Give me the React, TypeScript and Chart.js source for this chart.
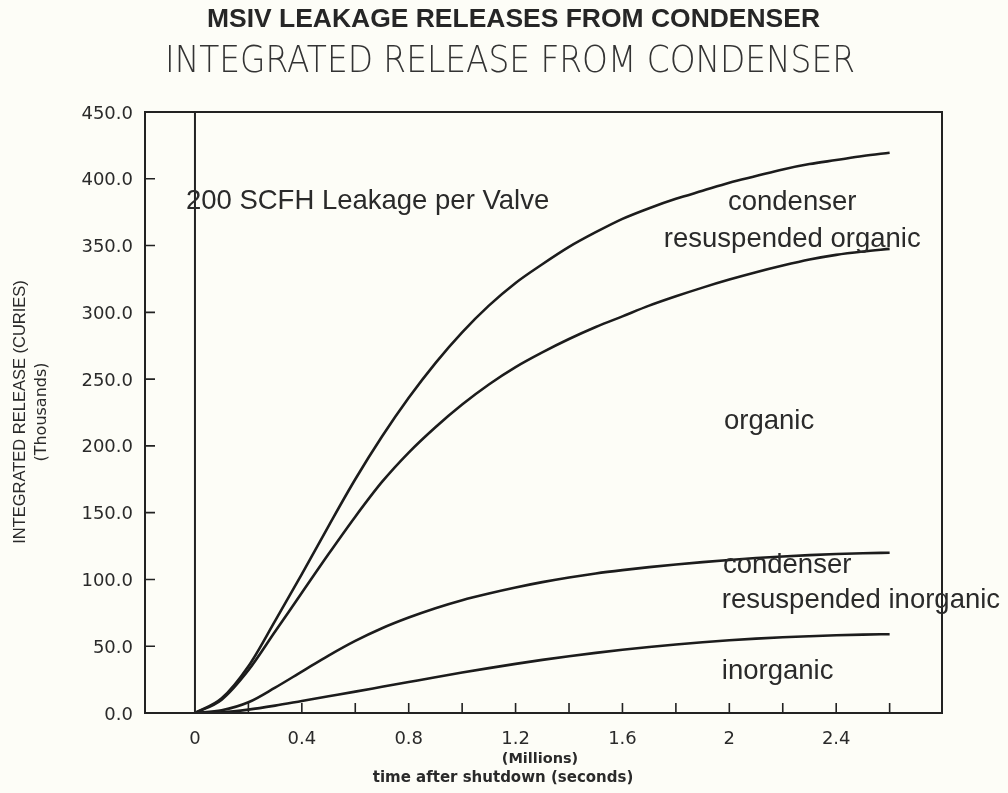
import React, { useEffect, useRef } from "react";
import { Chart, registerables } from "chart.js";

Chart.register(...registerables);

// ---- data (time in millions of seconds, release in thousands of curies) ----
const timeMillions = [0, 0.1, 0.2, 0.3, 0.4, 0.5, 0.6, 0.7, 0.8, 0.9, 1.0, 1.1, 1.2, 1.3, 1.4, 1.5, 1.6, 1.7, 1.8, 1.9, 2.0, 2.1, 2.2, 2.3, 2.4, 2.5, 2.6];
const condenserResuspendedOrganic = [0, 11, 35, 69, 104, 140, 175, 207, 236, 262, 285, 305, 322, 336, 349, 360, 370, 378, 385, 391, 397, 402, 407, 411, 414, 417, 419.5];
const organic = [0, 10, 32, 61, 90, 119, 147, 173, 195, 214, 231, 246, 259, 270, 280, 289, 297, 305, 312, 318.5, 324.5, 330, 335, 339.5, 343, 345.5, 347.5];
const condenserResuspendedInorganic = [0, 2, 8, 19, 31, 43, 54, 63.5, 71.5, 78.5, 84.5, 89.5, 94, 98, 101.5, 104.5, 107, 109.2, 111.2, 113, 114.6, 116, 117.2, 118.2, 119, 119.6, 120];
const inorganic = [0, 0.5, 2.5, 5.5, 9, 12.5, 16, 19.6, 23.2, 26.8, 30.3, 33.6, 36.8, 39.8, 42.5, 45, 47.3, 49.4, 51.3, 53, 54.5, 55.7, 56.7, 57.5, 58.2, 58.7, 59];

const yTickValues = [0, 50, 100, 150, 200, 250, 300, 350, 400, 450];
const xLabelValues = [0, 0.4, 0.8, 1.2, 1.6, 2, 2.4];
const xLabelTexts = ["0", "0.4", "0.8", "1.2", "1.6", "2", "2.4"];
const xMinorTicks = [0.2, 0.4, 0.6, 0.8, 1.0, 1.2, 1.4, 1.6, 1.8, 2.0, 2.2, 2.4, 2.6];

const titleMain = "MSIV LEAKAGE RELEASES FROM CONDENSER";
const titleSub = "INTEGRATED RELEASE FROM CONDENSER";
const yTitle = "INTEGRATED RELEASE (CURIES)";
const yUnit = "(Thousands)";
const xUnit = "(Millions)";
const xTitle = "time after shutdown (seconds)";

// text annotations placed in data coordinates
const noteTexts = [
  "200 SCFH Leakage per Valve",
  "condenser",
  "resuspended organic",
  "organic",
  "condenser",
  "resuspended inorganic",
  "inorganic",
];
const noteX = [-0.034, 1.995, 1.755, 1.98, 1.976, 1.972, 1.972];
const noteY = [377.4, 376.6, 348.9, 212.6, 104.8, 78.6, 25.5];

const INK = "#222222";
const TEXT = "#2a2a2a";

function fitText(ctx: CanvasRenderingContext2D, text: string, cx: number, y: number, font: string, width: number) {
  ctx.save();
  ctx.font = font;
  ctx.textAlign = "center";
  ctx.textBaseline = "alphabetic";
  const w = ctx.measureText(text).width;
  ctx.translate(cx, y);
  ctx.scale(width / w, 1);
  ctx.fillText(text, 0, 0);
  ctx.restore();
}

const decorPlugin = {
  id: "decor",
  beforeDraw(chart: any) {
    const ctx: CanvasRenderingContext2D = chart.ctx;
    ctx.save();
    ctx.fillStyle = "#fdfdf7";
    ctx.fillRect(0, 0, chart.width, chart.height);
    ctx.restore();
  },
  afterDatasetsDraw(chart: any) {
    const ctx: CanvasRenderingContext2D = chart.ctx;
    const a = chart.chartArea;
    const xs = chart.scales.x;
    const ys = chart.scales.y;
    ctx.save();

    // frame
    ctx.strokeStyle = INK;
    ctx.lineWidth = 2;
    ctx.strokeRect(a.left, a.top, a.right - a.left, a.bottom - a.top);

    // vertical line at time zero
    const x0 = xs.getPixelForValue(0);
    ctx.beginPath();
    ctx.moveTo(x0, a.bottom);
    ctx.lineTo(x0, a.top);
    ctx.stroke();

    // inward tick marks
    ctx.lineWidth = 1.6;
    ctx.beginPath();
    xMinorTicks.forEach((v) => {
      const px = xs.getPixelForValue(v);
      ctx.moveTo(px, a.bottom);
      ctx.lineTo(px, a.bottom - 10);
    });
    yTickValues.forEach((v) => {
      if (v === 0 || v === 450) return;
      const py = ys.getPixelForValue(v);
      ctx.moveTo(a.left, py);
      ctx.lineTo(a.left + 10, py);
    });
    ctx.stroke();

    // tick labels
    ctx.fillStyle = TEXT;
    ctx.font = "18px 'DejaVu Sans'";
    ctx.textBaseline = "alphabetic";
    ctx.textAlign = "right";
    yTickValues.forEach((v) => {
      const py = ys.getPixelForValue(v);
      ctx.fillText(v.toFixed(1), a.left - 12, py + 6.5);
    });
    ctx.textAlign = "center";
    xLabelValues.forEach((v, i) => {
      const px = xs.getPixelForValue(v);
      ctx.fillText(xLabelTexts[i], px, a.bottom + 31);
    });

    // axis titles
    ctx.font = "bold 14.5px 'DejaVu Sans'";
    ctx.fillText(xUnit, 540, a.bottom + 50);
    ctx.font = "bold 15px 'DejaVu Sans'";
    ctx.fillText(xTitle, 503, a.bottom + 69);

    ctx.save();
    ctx.translate(25, 412);
    ctx.rotate(-Math.PI / 2);
    ctx.font = "16.5px 'Liberation Sans'";
    ctx.textAlign = "center";
    ctx.fillText(yTitle, 0, 0);
    ctx.restore();
    ctx.save();
    ctx.translate(46, 412);
    ctx.rotate(-Math.PI / 2);
    ctx.font = "16px 'DejaVu Sans'";
    ctx.textAlign = "center";
    ctx.fillText(yUnit, 0, 0);
    ctx.restore();

    // titles
    ctx.fillStyle = "#262626";
    fitText(ctx, titleMain, 513.5, 27, "bold 25.5px 'Liberation Sans'", 613);
    ctx.fillStyle = "#333333";
    fitText(ctx, titleSub, 510, 72, "200 37px 'DejaVu Sans'", 690);

    // annotations
    ctx.fillStyle = TEXT;
    ctx.font = "27.5px 'Liberation Sans'";
    ctx.textAlign = "left";
    ctx.textBaseline = "alphabetic";
    noteTexts.forEach((t, i) => {
      ctx.fillText(t, xs.getPixelForValue(noteX[i]), ys.getPixelForValue(noteY[i]));
    });

    ctx.restore();
  },
};

function makeSeries(values: number[]) {
  return values.map((v, i) => ({ x: timeMillions[i], y: v }));
}

export default function App() {
  const ref = useRef<HTMLCanvasElement | null>(null);
  useEffect(() => {
    if (!ref.current) return;
    const lineStyle = {
      borderColor: "#1c1c1c",
      borderWidth: 2.6,
      pointRadius: 0,
      fill: false,
      cubicInterpolationMode: "monotone" as const,
    };
    const chart = new Chart(ref.current, {
      type: "line",
      data: {
        datasets: [
          { label: "condenser resuspended organic", data: makeSeries(condenserResuspendedOrganic), ...lineStyle },
          { label: "organic", data: makeSeries(organic), ...lineStyle },
          { label: "condenser resuspended inorganic", data: makeSeries(condenserResuspendedInorganic), ...lineStyle },
          { label: "inorganic", data: makeSeries(inorganic), ...lineStyle },
        ],
      },
      options: {
        animation: false,
        responsive: false,
        layout: { padding: { left: 145, top: 112, right: 66, bottom: 80 } },
        plugins: { legend: { display: false }, tooltip: { enabled: false }, title: { display: false } },
        scales: {
          x: { type: "linear", min: -0.187, max: 2.796, display: false },
          y: { type: "linear", min: 0, max: 450, display: false },
        },
      },
      plugins: [decorPlugin],
    });
    return () => chart.destroy();
  }, []);
  return (
    <div style={{ position: "fixed", left: 0, top: 0, width: 1008, height: 793, background: "#fdfdf7" }}>
      <canvas ref={ref} width={1008} height={793} style={{ display: "block" }} />
    </div>
  );
}
